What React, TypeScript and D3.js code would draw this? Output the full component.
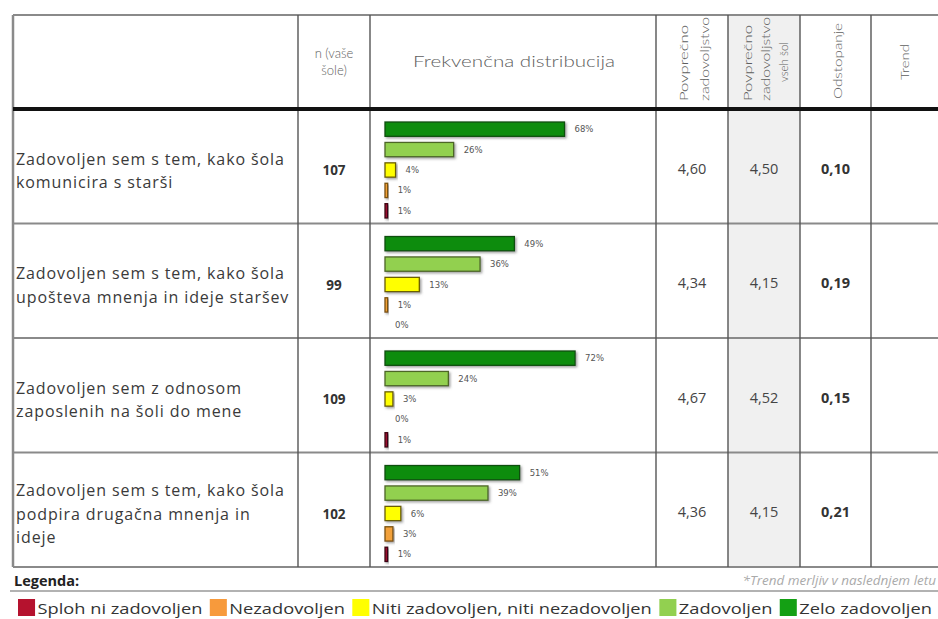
import React, { useEffect, useRef } from 'react';
import * as d3 from 'd3';

// Vprašanja (vrstice tabele)
const questions = [
  ['Zadovoljen sem s tem, kako šola', 'komunicira s starši'],
  ['Zadovoljen sem s tem, kako šola', 'upošteva mnenja in ideje staršev'],
  ['Zadovoljen sem z odnosom', 'zaposlenih na šoli do mene'],
  ['Zadovoljen sem s tem, kako šola', 'podpira drugačna mnenja in', 'ideje'],
];
const nValues = [107, 99, 109, 102];
const avgSchool = [4.6, 4.34, 4.67, 4.36];
const avgAll = [4.5, 4.15, 4.52, 4.15];
const deviation = [0.1, 0.19, 0.15, 0.21];

// frekvenčna distribucija (%), po kategorijah
const categories = ['Zelo zadovoljen', 'Zadovoljen', 'Niti zadovoljen, niti nezadovoljen', 'Nezadovoljen', 'Sploh ni zadovoljen'];
const zeloZadovoljen = [68, 49, 72, 51];
const zadovoljen = [26, 36, 24, 39];
const niti = [4, 13, 3, 6];
const nezadovoljen = [1, 1, 0, 3];
const splohNi = [1, 0, 1, 1];

const barFill = ['#0a8c0a', '#92d050', '#ffff00', '#f2a13a', '#9c0f2e'];
const barStroke = ['#0b4f0b', '#4d6628', '#6b5e00', '#7a5210', '#3d0512'];
const legendFill = ['#b5122e', '#f79a3c', '#ffff00', '#92d050', '#14a014'];
const legendOrder = ['Sploh ni zadovoljen', 'Nezadovoljen', 'Niti zadovoljen, niti nezadovoljen', 'Zadovoljen', 'Zelo zadovoljen'];

const W = 938;
const H = 619;
const colEdges = [13, 298, 370, 656, 728, 800, 871, 945];

function App() {
  const ref = useRef<SVGSVGElement>(null);

  useEffect(() => {
    const svg = d3.select(ref.current);
    svg.selectAll('*').remove();

    const fmt = (v: number) => d3.format('.2f')(v).replace('.', ',');
    const series = [zeloZadovoljen, zadovoljen, niti, nezadovoljen, splohNi];
    const rows = questions.map((q, i) => ({
      q, n: nValues[i], a: avgSchool[i], b: avgAll[i], d: deviation[i],
      dist: categories.map((c, k) => ({ c, k, v: series[k][i] })),
    }));

    const defs = svg.append('defs');
    const f = defs.append('filter').attr('id', 'sh').attr('x', '-20%').attr('y', '-40%').attr('width', '140%').attr('height', '200%');
    f.append('feDropShadow').attr('dx', 1.5).attr('dy', 1.5).attr('stdDeviation', 1).attr('flood-color', '#555').attr('flood-opacity', 0.55);

    const headerTop = 15;
    const headerBottom = 109;
    const tableBottom = 567;

    const y = d3.scaleBand<number>().domain(d3.range(rows.length)).range([headerBottom, tableBottom]);
    const x = d3.scaleLinear().domain([0, 100]).range([385, 649]);

    // grey column
    svg.append('rect').attr('x', colEdges[4]).attr('y', headerTop).attr('width', colEdges[5] - colEdges[4])
      .attr('height', tableBottom - headerTop).attr('fill', '#f0f0f0');

    // row lines
    svg.append('line').attr('x1', colEdges[0]).attr('x2', W).attr('y1', headerTop).attr('y2', headerTop)
      .attr('stroke', '#8a8a8a').attr('stroke-width', 2);
    rows.forEach((_, i) => {
      if (i === 0) return;
      svg.append('line').attr('x1', colEdges[0]).attr('x2', W).attr('y1', y(i)!).attr('y2', y(i)!)
        .attr('stroke', '#8a8a8a').attr('stroke-width', 2);
    });
    svg.append('line').attr('x1', colEdges[0]).attr('x2', W).attr('y1', tableBottom).attr('y2', tableBottom)
      .attr('stroke', '#8a8a8a').attr('stroke-width', 2);

    // column lines
    colEdges.forEach((cx, i) => {
      svg.append('line').attr('x1', cx).attr('x2', cx).attr('y1', headerTop).attr('y2', tableBottom)
        .attr('stroke', i === 0 ? '#8a8a8a' : '#555').attr('stroke-width', i === 0 ? 2.5 : 1.4);
    });

    // thick header line
    svg.append('line').attr('x1', colEdges[0]).attr('x2', W).attr('y1', headerBottom).attr('y2', headerBottom)
      .attr('stroke', '#111').attr('stroke-width', 4);

    // header
    const hf = 'Lato, "Open Sans", sans-serif';
    const hdr = svg.append('g').attr('font-family', hf).attr('fill', '#5e5e5e').attr('font-weight', 300);
    hdr.append('text').attr('x', 334).attr('y', 58).attr('text-anchor', 'middle').attr('font-size', 13).text('n (vaše');
    hdr.append('text').attr('x', 334).attr('y', 75).attr('text-anchor', 'middle').attr('font-size', 13).text('šole)');
    hdr.append('text').attr('x', 514).attr('y', 67).attr('text-anchor', 'middle').attr('font-size', 15.5)
      .attr('textLength', 202).attr('lengthAdjust', 'spacingAndGlyphs').text('Frekvenčna distribucija');

    const vert = [
      { t: 'Povprečno', bx: 688, y0: 101, anchor: 'start', len: 76 },
      { t: 'zadovoljstvo', bx: 709, y0: 101, anchor: 'start', len: 84 },
      { t: 'Povprečno', bx: 752, y0: 101, anchor: 'start', len: 76 },
      { t: 'zadovoljstvo', bx: 770, y0: 101, anchor: 'start', len: 84 },
      { t: 'vseh šol', bx: 788, y0: 62, anchor: 'middle', len: 40 },
      { t: 'Odstopanje', bx: 842, y0: 61, anchor: 'middle', len: 76 },
      { t: 'Trend', bx: 909, y0: 62, anchor: 'middle', len: 36 },
    ];
    vert.forEach((v) => {
      hdr.append('text').attr('transform', `translate(${v.bx},${v.y0}) rotate(-90)`)
        .attr('text-anchor', v.anchor).attr('font-size', 12)
        .attr('textLength', v.len).attr('lengthAdjust', 'spacingAndGlyphs').text(v.t);
    });

    const bf = '"Open Sans", "Noto Sans", sans-serif';
    const body = svg.append('g');
    rows.forEach((r, i) => {
      const top = y(i)!;
      const cy = top + y.bandwidth() / 2;
      r.q.forEach((line, j) => {
        body.append('text').attr('x', 16).attr('y', cy + 4 + (j - (r.q.length - 1) / 2) * 23.5)
          .attr('dominant-baseline', 'central').attr('font-family', bf).attr('font-size', 16)
          .attr('letter-spacing', 0.9).attr('fill', '#3a3a3a').text(line);
      });
      body.append('text').attr('x', (colEdges[1] + colEdges[2]) / 2).attr('y', cy + 4).attr('dominant-baseline', 'central')
        .attr('text-anchor', 'middle').attr('font-family', bf).attr('font-size', 13.5).attr('font-weight', 'bold')
        .attr('fill', '#333').text(r.n);
      body.append('text').attr('x', (colEdges[3] + colEdges[4]) / 2).attr('y', cy + 2).attr('dominant-baseline', 'central')
        .attr('text-anchor', 'middle').attr('font-family', bf).attr('font-size', 14.5).attr('fill', '#444').text(fmt(r.a));
      body.append('text').attr('x', (colEdges[4] + colEdges[5]) / 2).attr('y', cy + 2).attr('dominant-baseline', 'central')
        .attr('text-anchor', 'middle').attr('font-family', bf).attr('font-size', 14.5).attr('fill', '#444').text(fmt(r.b));
      body.append('text').attr('x', (colEdges[5] + colEdges[6]) / 2).attr('y', cy + 2).attr('dominant-baseline', 'central')
        .attr('text-anchor', 'middle').attr('font-family', bf).attr('font-size', 14.5).attr('font-weight', 'bold')
        .attr('fill', '#333').text(fmt(r.d));

      const yb = d3.scaleBand<number>().domain(d3.range(categories.length)).range([top + 12, top + 110]).paddingInner(0.3).paddingOuter(0.05);
      const g = svg.append('g');
      g.selectAll('rect').data(r.dist.filter((d) => d.v > 0)).enter().append('rect')
        .attr('x', x(0)).attr('y', (d) => yb(d.k)!).attr('width', (d) => x(d.v) - x(0))
        .attr('height', yb.bandwidth()).attr('fill', (d) => barFill[d.k]).attr('stroke', (d) => barStroke[d.k])
        .attr('stroke-width', 1.3).attr('filter', 'url(#sh)');
      g.selectAll('text').data(r.dist).enter().append('text')
        .attr('x', (d) => x(d.v) + 10).attr('y', (d) => yb(d.k)! + yb.bandwidth() / 2)
        .attr('dominant-baseline', 'central').attr('font-family', '"DejaVu Sans", sans-serif').attr('font-size', 8.5)
        .attr('fill', '#555').text((d) => `${d.v}%`);
    });

    // legend
    const lg = svg.append('g').attr('font-family', bf);
    lg.append('text').attr('x', 14).attr('y', 580).attr('dominant-baseline', 'central').attr('font-size', 14.5)
      .attr('font-weight', 'bold').attr('fill', '#222').text('Legenda:');
    lg.append('text').attr('x', 936).attr('y', 580).attr('dominant-baseline', 'central').attr('text-anchor', 'end')
      .attr('font-size', 13.5).attr('font-style', 'italic').attr('fill', '#aaa').text('*Trend merljiv v naslednjem letu');
    lg.append('line').attr('x1', 10).attr('x2', W).attr('y1', 591).attr('y2', 591).attr('stroke', '#999').attr('stroke-width', 1.5);

    // legend items, stretched horizontally to fill the row like in the original
    const items = lg.append('g');
    let cx = 0;
    legendOrder.forEach((name, i) => {
      items.append('rect').attr('x', cx).attr('y', 599).attr('width', 14).attr('height', 17).attr('fill', legendFill[i]);
      const t = items.append('text').attr('x', cx + 16).attr('y', 608).attr('dominant-baseline', 'central')
        .attr('font-size', 15).attr('fill', '#333').text(name);
      const w = (t.node() as SVGTextElement).getComputedTextLength();
      cx += 16 + w + 6;
    });
    const sx = (932 - 18) / (cx - 6);
    items.attr('transform', `translate(18,0) scale(${sx},1)`);
  }, []);

  return (
    <svg ref={ref} width={W} height={H} style={{ position: 'absolute', left: 0, top: 0, background: '#fff' }} />
  );
}

export default App;
